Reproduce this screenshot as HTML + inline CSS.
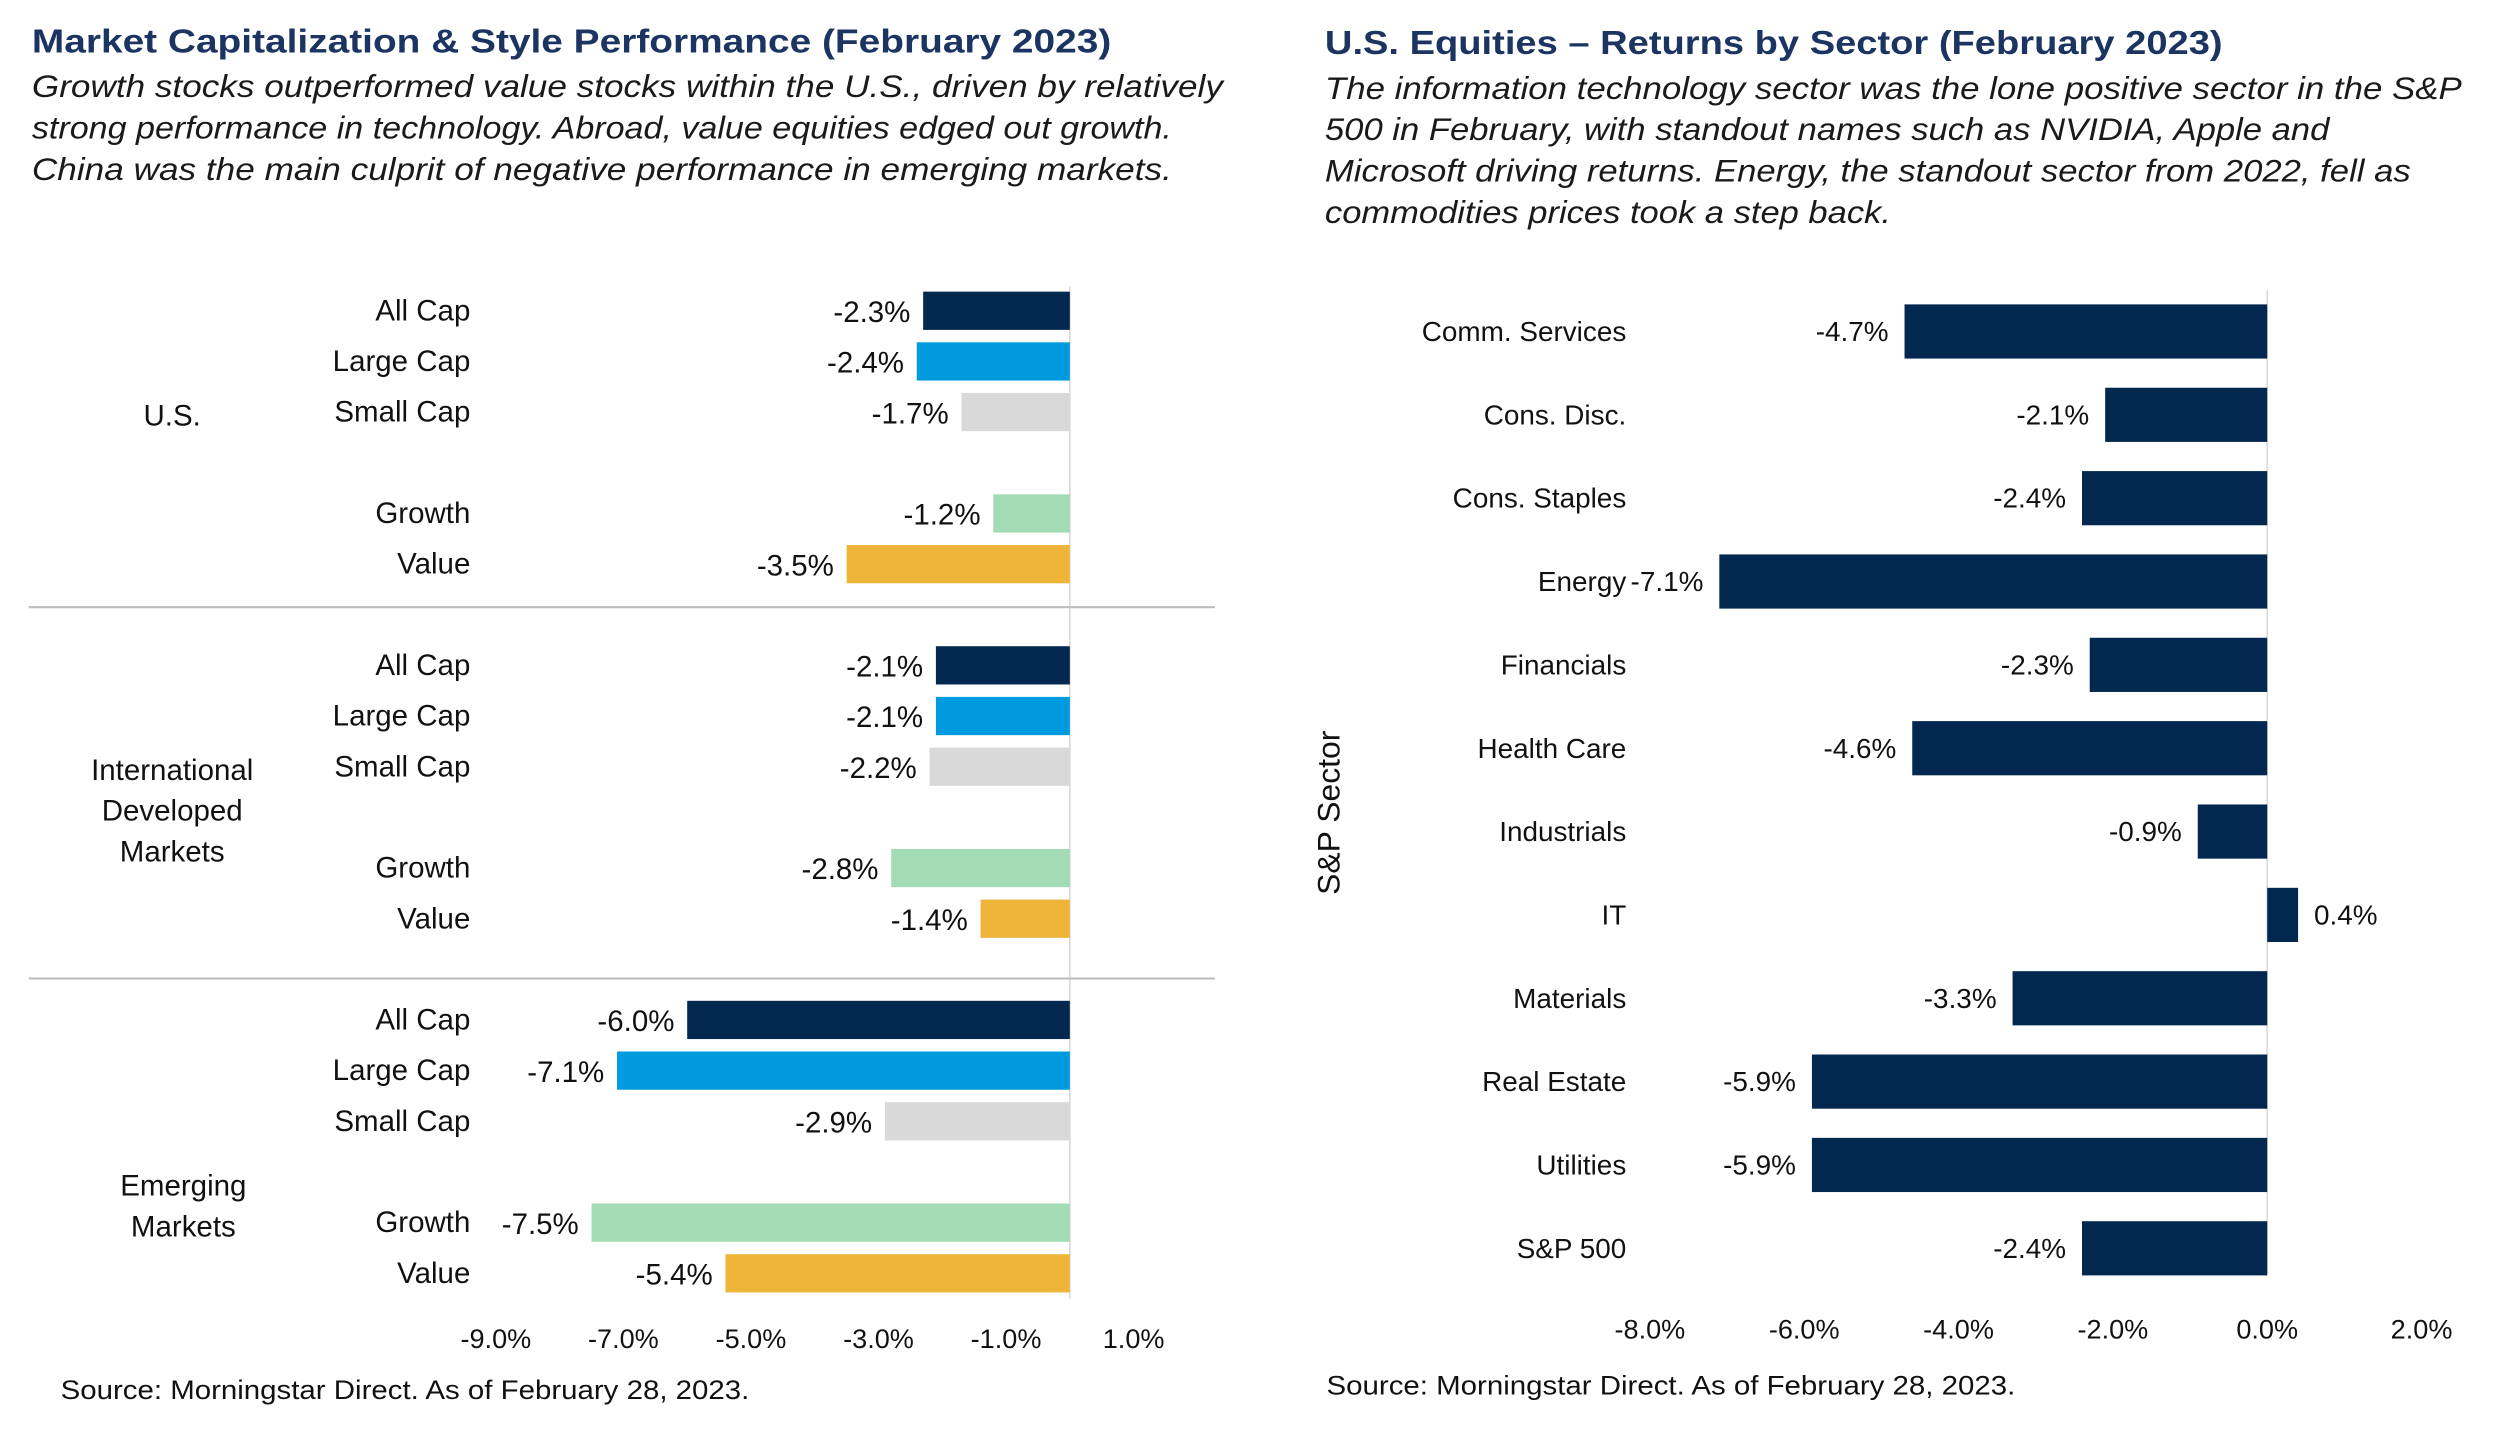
<!DOCTYPE html>
<html><head><meta charset="utf-8"><style>
html,body{margin:0;padding:0;background:#fff;}
svg{display:block;font-family:"Liberation Sans",Arial,sans-serif;}
</style></head><body>
<svg id="root" width="2500" height="1455" viewBox="0 0 1568 913" preserveAspectRatio="none">
<g>
<text x="20" y="33" font-size="21" font-weight="bold" fill="#1b3461" textLength="677" lengthAdjust="spacingAndGlyphs">Market Capitalization &amp; Style Performance (February 2023)</text>
<g font-size="20" font-style="italic" fill="#1a1a1a">
<text x="20" y="61" textLength="747" lengthAdjust="spacingAndGlyphs">Growth stocks outperformed value stocks within the U.S., driven by relatively</text>
<text x="20" y="87" textLength="715" lengthAdjust="spacingAndGlyphs">strong performance in technology. Abroad, value equities edged out growth.</text>
<text x="20" y="113" textLength="715" lengthAdjust="spacingAndGlyphs">China was the main culprit of negative performance in emerging markets.</text>
</g>
<g id="leftChart"></g>
<text x="38" y="878" font-size="17" fill="#111" textLength="432" lengthAdjust="spacingAndGlyphs">Source: Morningstar Direct. As of February 28, 2023.</text>
</g>
<g>
<text x="831" y="34" font-size="21" font-weight="bold" fill="#1b3461" textLength="563" lengthAdjust="spacingAndGlyphs">U.S. Equities – Returns by Sector (February 2023)</text>
<g font-size="20" font-style="italic" fill="#1a1a1a">
<text x="831" y="62" textLength="713" lengthAdjust="spacingAndGlyphs">The information technology sector was the lone positive sector in the S&amp;P</text>
<text x="831" y="88" textLength="630" lengthAdjust="spacingAndGlyphs">500 in February, with standout names such as NVIDIA, Apple and</text>
<text x="831" y="114" textLength="681" lengthAdjust="spacingAndGlyphs">Microsoft driving returns. Energy, the standout sector from 2022, fell as</text>
<text x="831" y="140" textLength="355" lengthAdjust="spacingAndGlyphs">commodities prices took a step back.</text>
</g>
<text transform="translate(840,510) rotate(-90)" text-anchor="middle" font-size="20" fill="#111">S&amp;P Sector</text>
<g id="rightChart"></g>
<text x="832" y="875" font-size="17" fill="#111" textLength="432" lengthAdjust="spacingAndGlyphs">Source: Morningstar Direct. As of February 28, 2023.</text>
</g>
</svg>
<script>
// Left chart data
const leftCategories = ["All Cap","Large Cap","Small Cap","Growth","Value","All Cap","Large Cap","Small Cap","Growth","Value","All Cap","Large Cap","Small Cap","Growth","Value"];
const leftValues = [-2.3,-2.4,-1.7,-1.2,-3.5,-2.1,-2.1,-2.2,-2.8,-1.4,-6.0,-7.1,-2.9,-7.5,-5.4];
const leftGroups = [["U.S."],["International","Developed","Markets"],["Emerging","Markets"]];
const leftTicks = [-9,-7,-5,-3,-1,1];
// Right chart data
const rightCategories = ["Comm. Services","Cons. Disc.","Cons. Staples","Energy","Financials","Health Care","Industrials","IT","Materials","Real Estate","Utilities","S&P 500"];
const rightValues = [-4.7,-2.1,-2.4,-7.1,-2.3,-4.6,-0.9,0.4,-3.3,-5.9,-5.9,-2.4];
const rightTicks = [-8,-6,-4,-2,0,2];

const NS="http://www.w3.org/2000/svg";
function mk(parent,tag,attrs,txt){const e=document.createElementNS(NS,tag);for(const k in attrs)e.setAttribute(k,attrs[k]);if(txt!==undefined)e.textContent=txt;parent.appendChild(e);return e;}
const styleColors=["#03284f","#009ade","#d9d9d9","#a2dbb4","#efb43a"];

// Left
(function(){
  const g=document.getElementById('leftChart');
  const x=v=>671+v*40;
  const rowY=i=>{const grp=Math.floor(i/5),k=i%5;return 195+grp*222.5+k*31.8+(k>=3?31.8:0);};
  mk(g,'line',{x1:x(0),x2:x(0),y1:180,y2:815,stroke:'#d9d9d9','stroke-width':1});
  [381,614].forEach(y=>{const l=mk(g,'line',{x1:18,x2:762,y1:y,y2:y,stroke:'#bdbdbd','stroke-width':1.3});
    
    });
  leftValues.forEach((v,i)=>{
    const cy=rowY(i);
    const r=mk(g,'rect',{x:Math.min(x(v),x(0)),y:cy-12,width:Math.abs(x(v)-x(0)),height:24,fill:styleColors[i%5]});
    
    
    const c=mk(g,'text',{x:295,y:cy+6,'text-anchor':'end','font-size':18.5,fill:'#111'},leftCategories[i]);
    
    
    const t=mk(g,'text',{x:x(v)-8,y:cy+7,'text-anchor':'end','font-size':18.5,fill:'#111'},v.toFixed(1)+'%');
    
    
  });
  const groupCenters=[261,509,757];
  leftGroups.forEach((lines,gi)=>{
    lines.forEach((s,li)=>{
      const y=groupCenters[gi]+(li-(lines.length-1)/2)*25.5+6;
      const t=mk(g,'text',{x:gi==2?115:108,y:y,'text-anchor':'middle','font-size':18.5,fill:'#111'},s);
      
      
    });
  });
  leftTicks.forEach(v=>{
    const t=mk(g,'text',{x:x(v),y:846,'text-anchor':'middle','font-size':17,fill:'#111'},v.toFixed(1)+'%');
    
    
  });
})();

// Right
(function(){
  const g=document.getElementById('rightChart');
  const x=v=>1422+v*48.4;
  const rowY=i=>208+i*52.3;
  mk(g,'line',{x1:x(0),x2:x(0),y1:182,y2:800,stroke:'#d9d9d9','stroke-width':1});
  rightValues.forEach((v,i)=>{
    const cy=rowY(i);
    const r=mk(g,'rect',{x:Math.min(x(v),x(0)),y:cy-17,width:Math.abs(x(v)-x(0)),height:34,fill:'#03284f'});
    
    
    const c=mk(g,'text',{x:1020,y:cy+6,'text-anchor':'end','font-size':17.5,fill:'#111'},rightCategories[i]);
    
    
    const t=v<0?mk(g,'text',{x:x(v)-10,y:cy+6,'text-anchor':'end','font-size':17.5,fill:'#111'},v.toFixed(1)+'%')
               :mk(g,'text',{x:x(v)+10,y:cy+6,'text-anchor':'start','font-size':17.5,fill:'#111'},v.toFixed(1)+'%');
    
    
  });
  rightTicks.forEach(v=>{
    const t=mk(g,'text',{x:x(v),y:840,'text-anchor':'middle','font-size':17,fill:'#111'},v.toFixed(1)+'%');
    
    
  });
})();
</script>
</body></html>
